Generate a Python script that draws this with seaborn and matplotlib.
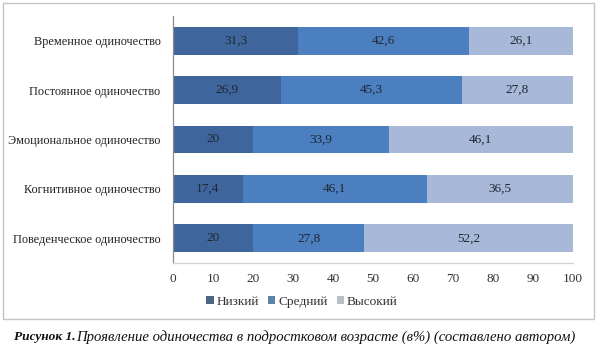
import matplotlib
matplotlib.use("Agg")
import matplotlib.pyplot as plt
from matplotlib.patches import Rectangle, Patch
import seaborn as sns
import numpy as np
import pandas as pd

categories = ["Временное одиночество", "Постоянное одиночество", "Эмоциональное одиночество",
              "Когнитивное одиночество", "Поведенческое одиночество"]
low = [31.3, 26.9, 20, 17.4, 20]
mid = [42.6, 45.3, 33.9, 46.1, 27.8]
high = [26.1, 27.8, 46.1, 36.5, 52.2]
series_names = ["Низкий", "Средний", "Высокий"]
xticks = [0, 10, 20, 30, 40, 50, 60, 70, 80, 90, 100]

bar_colors = ["#3f669c", "#4c7fbf", "#a7b8d8"]
legend_colors = ["#4b6684", "#5b83a8", "#b9bec7"]
text_color = "#1e2733"

sns.set_theme(style="white")
plt.rcParams["font.family"] = ["Liberation Serif", "DejaVu Serif"]

fig = plt.figure(figsize=(6.0, 3.44), dpi=100)
ax = fig.add_axes([173/600, 1-263/344, 400/600, 247/344])

c1 = np.array(low)
c2 = c1 + np.array(mid)
c3 = c2 + np.array(high)
df = pd.DataFrame({"cat": categories, "c1": c1, "c2": c2, "c3": c3})

for col, color in zip(["c3", "c2", "c1"], bar_colors[::-1]):
    sns.barplot(data=df, y="cat", x=col, orient="h", color=color, width=0.56,
                saturation=1, linewidth=0, ax=ax)

def fmt(v):
    s = f"{v:g}"
    return s.replace(".", ",")

starts = [np.zeros(len(low)), c1, c2]
for vals, st in zip([low, mid, high], starts):
    for i, (v, s0) in enumerate(zip(vals, st)):
        ax.text(s0 + v/2, i, fmt(v), ha="center", va="center", fontsize=9.5, color=text_color)

ax.set_xlim(0, 100)
ax.set_ylim(4.5, -0.5)
ax.set_xticks(xticks)
ax.set_xticklabels([str(t) for t in xticks])
ax.set_xlabel("")
ax.set_ylabel("")
ax.tick_params(axis="x", length=0, pad=7, labelsize=9.5, labelcolor="#333333")
ax.tick_params(axis="y", length=0, pad=9, labelsize=8.8, labelcolor="#222222")
for s in ["top", "right"]:
    ax.spines[s].set_visible(False)
ax.spines["left"].set_color("#8c8c8c")
ax.spines["left"].set_linewidth(0.9)
ax.spines["bottom"].set_color("#d0d0d0")
ax.spines["bottom"].set_linewidth(0.9)

handles = [Patch(facecolor=c, edgecolor="none") for c in legend_colors]
fig.legend(handles, series_names, loc="center", bbox_to_anchor=(302/600, 1-302/344),
           ncol=3, frameon=False, fontsize=9.6, handlelength=0.55, handleheight=0.55,
           handletextpad=0.2, columnspacing=0.7, labelcolor="#333333")

fig.patches.append(Rectangle((3/600, 1-319/344), 591/600, 316/344, transform=fig.transFigure,
                             fill=False, edgecolor="#c4c4c4", linewidth=1.0))

fig.text(14/600, 1-337/344, "Рисунок 1.", fontsize=9.6, fontweight="bold", fontstyle="italic",
         ha="left", va="center", color="#111111")
fig.text(76/600, 1-337/344, "Проявление одиночества в подростковом возрасте (в%) (составлено автором)",
         fontsize=10.6, fontstyle="italic", ha="left", va="center", color="#111111")

fig.savefig("out.png", dpi=100)
